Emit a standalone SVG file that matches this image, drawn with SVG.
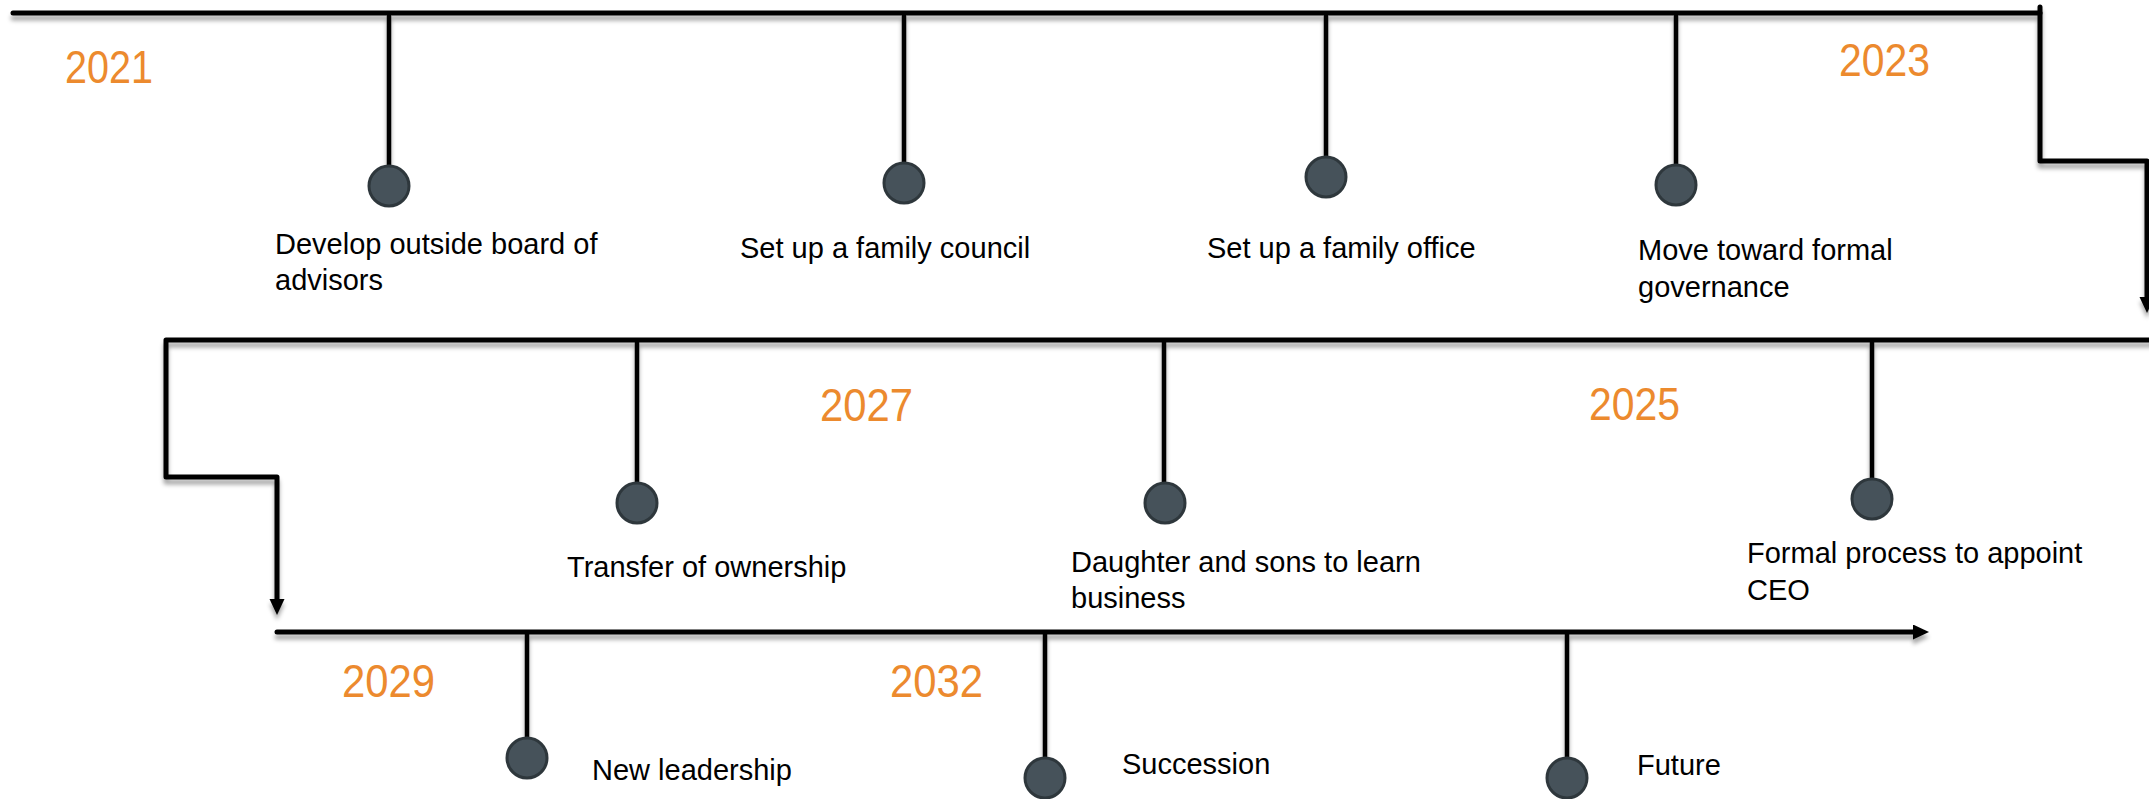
<svg xmlns="http://www.w3.org/2000/svg" width="2149" height="799" viewBox="0 0 2149 799">
  <defs>
    <filter id="shadow" x="-5%" y="-50%" width="110%" height="200%">
      <feDropShadow dx="0" dy="5" stdDeviation="2.2" flood-color="#000" flood-opacity="0.35"/>
    </filter>
    <marker id="head" markerUnits="userSpaceOnUse" markerWidth="18" markerHeight="16" refX="0" refY="7.5" orient="auto">
      <path d="M0,0 L16,7.5 L0,15 Z" fill="#000"/>
    </marker>
    <style>
      .track { fill: none; stroke: #000; stroke-width: 5; stroke-linecap: round; stroke-linejoin: round; }
      .stem { fill: none; stroke: #000; stroke-width: 4.5; stroke-linecap: round; }
      .dot { fill: #46525a; stroke: #2e373c; stroke-width: 3; }
      .label { font-family: "Liberation Sans", Arial, sans-serif; font-size: 29px; fill: #000; }
      .year { font-family: "Liberation Sans", Arial, sans-serif; font-size: 46px; fill: #ec8a2e; }
    </style>
  </defs>
  <rect width="2149" height="799" fill="#fff"/>

  <!-- timeline track and stems -->
  <g id="connectors" filter="url(#shadow)">
    <path class="track" d="M13,13 H2040"/>
    <path class="track" d="M2040,7 V161 H2147 V297" marker-end="url(#head)"/>
    <path class="track" d="M2152,340 H166 V477 H277 V599" marker-end="url(#head)"/>
    <path class="track" d="M277,632 H1913" marker-end="url(#head)"/>

    <line class="stem" x1="389" y1="16" x2="389" y2="166"/>
    <line class="stem" x1="904" y1="16" x2="904" y2="163"/>
    <line class="stem" x1="1326" y1="16" x2="1326" y2="157"/>
    <line class="stem" x1="1676" y1="16" x2="1676" y2="165"/>

    <line class="stem" x1="637" y1="342" x2="637" y2="483"/>
    <line class="stem" x1="1164" y1="342" x2="1164" y2="483"/>
    <line class="stem" x1="1872" y1="342" x2="1872" y2="479"/>

    <line class="stem" x1="527" y1="634" x2="527" y2="738"/>
    <line class="stem" x1="1045" y1="634" x2="1045" y2="758"/>
    <line class="stem" x1="1567" y1="634" x2="1567" y2="758"/>
  </g>

  <!-- years -->
  <g id="years">
    <text class="year" x="65" y="83" textLength="88" lengthAdjust="spacingAndGlyphs">2021</text>
    <text class="year" x="1839" y="76" textLength="91" lengthAdjust="spacingAndGlyphs">2023</text>
    <text class="year" x="1589" y="420" textLength="91" lengthAdjust="spacingAndGlyphs">2025</text>
    <text class="year" x="820" y="421" textLength="93" lengthAdjust="spacingAndGlyphs">2027</text>
    <text class="year" x="342" y="697" textLength="93" lengthAdjust="spacingAndGlyphs">2029</text>
    <text class="year" x="890" y="697" textLength="93" lengthAdjust="spacingAndGlyphs">2032</text>
  </g>

  <!-- milestones -->
  <g id="m-board">
    <circle class="dot" cx="389" cy="186" r="20"/>
    <text class="label" x="275" y="254">Develop outside board of</text>
    <text class="label" x="275" y="290">advisors</text>
  </g>
  <g id="m-council">
    <circle class="dot" cx="904" cy="183" r="20"/>
    <text class="label" x="740" y="258">Set up a family council</text>
  </g>
  <g id="m-office">
    <circle class="dot" cx="1326" cy="177" r="20"/>
    <text class="label" x="1207" y="258">Set up a family office</text>
  </g>
  <g id="m-governance">
    <circle class="dot" cx="1676" cy="185" r="20"/>
    <text class="label" x="1638" y="260">Move toward formal</text>
    <text class="label" x="1638" y="297">governance</text>
  </g>
  <g id="m-ceo">
    <circle class="dot" cx="1872" cy="499" r="20"/>
    <text class="label" x="1747" y="563">Formal process to appoint</text>
    <text class="label" x="1747" y="600">CEO</text>
  </g>
  <g id="m-learn">
    <circle class="dot" cx="1165" cy="503" r="20"/>
    <text class="label" x="1071" y="572">Daughter and sons to learn</text>
    <text class="label" x="1071" y="608">business</text>
  </g>
  <g id="m-ownership">
    <circle class="dot" cx="637" cy="503" r="20"/>
    <text class="label" x="567" y="577">Transfer of ownership</text>
  </g>
  <g id="m-leadership">
    <circle class="dot" cx="527" cy="758" r="20"/>
    <text class="label" x="592" y="780">New leadership</text>
  </g>
  <g id="m-succession">
    <circle class="dot" cx="1045" cy="778" r="20"/>
    <text class="label" x="1122" y="774">Succession</text>
  </g>
  <g id="m-future">
    <circle class="dot" cx="1567" cy="778" r="20"/>
    <text class="label" x="1637" y="775">Future</text>
  </g>
</svg>
